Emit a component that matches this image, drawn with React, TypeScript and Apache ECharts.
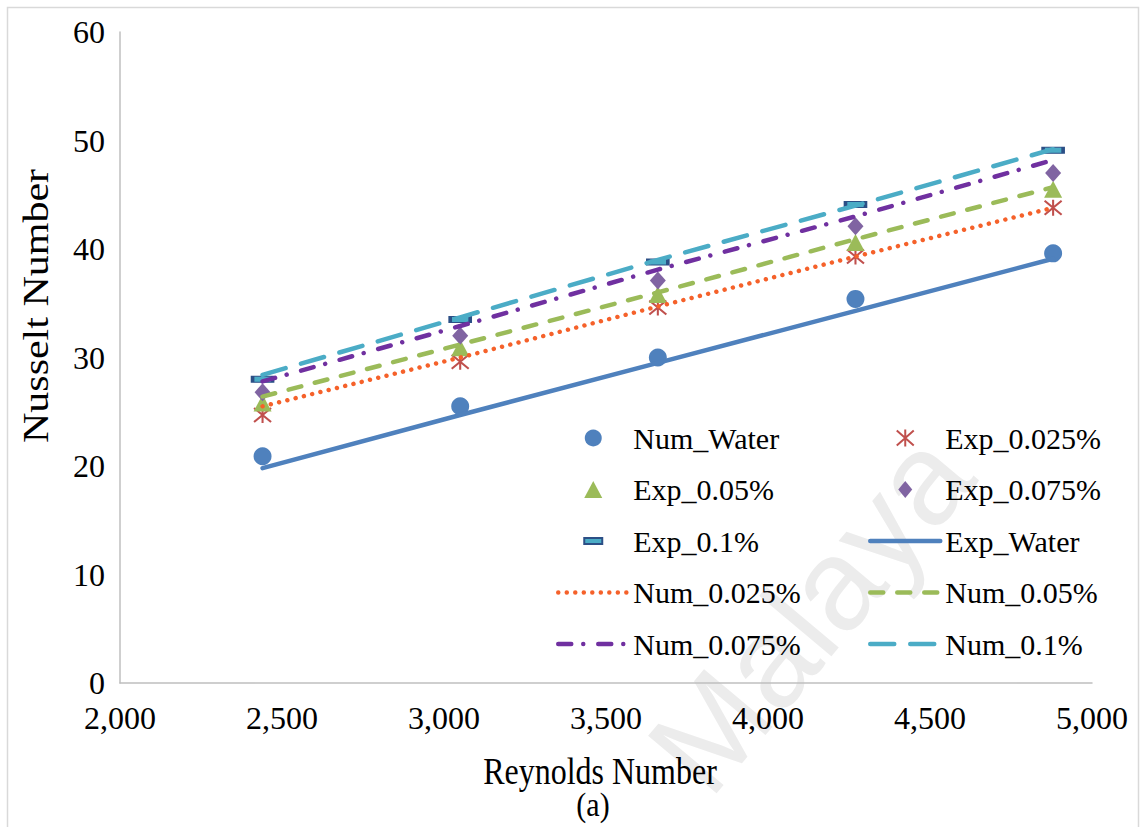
import React, { useEffect, useRef } from "react";
import * as echarts from "echarts";

// Reynolds numbers of the five test runs
const reynolds = [2440, 3050, 3660, 4270, 4880];

// Nusselt numbers per case
const numWater = [20.9, 25.5, 30.0, 35.4, 39.6];
const exp0025 = [24.7, 29.6, 34.6, 39.3, 43.8];
const exp005 = [25.8, 30.9, 35.8, 40.6, 45.5];
const exp0075 = [26.8, 32.0, 37.1, 42.1, 47.0];
const exp01 = [28.0, 33.5, 38.8, 44.1, 49.1];
const expWater = [19.8, 24.7, 29.5, 34.3, 39.1];
const num0025 = [25.5, 30.0, 34.7, 39.3, 43.8];
const num005 = [26.4, 31.2, 36.0, 40.9, 45.7];
const num0075 = [27.8, 32.9, 38.1, 43.0, 48.2];
const num01 = [28.4, 33.7, 39.0, 44.0, 49.2];

const legendLeftColumn = ["Num_Water", "Exp_0.05%", "Exp_0.1%", "Num_0.025%", "Num_0.075%"];
const legendRightColumn = ["Exp_0.025%", "Exp_0.075%", "Exp_Water", "Num_0.05%", "Num_0.1%"];
const lineNames = ["Exp_Water", "Num_0.025%", "Num_0.05%", "Num_0.075%", "Num_0.1%"];

// legend icons padded to the full 70x17 icon box so they keep their own proportions
const paddedIcons: Record<string, string> = {
  "Exp_0.05%": "path://M0,0M70,17M26,17L35,0L44,17Z",
  "Exp_0.075%": "path://M0,0M70,17M28,8.5L35,0L42,8.5L35,17Z",
  "Exp_0.1%": "path://M0,0M70,17M26,5.5h18v6h-18z",
};

const SERIF = "'Liberation Serif', 'Times New Roman', serif";

const pairs = (ys: number[]) => reynolds.map((x, i) => [x, ys[i]]);

const scatter = (name: string, ys: number[], extra: any) => ({
  name,
  type: "scatter",
  data: pairs(ys),
  ...extra,
});

const line = (name: string, ys: number[], color: string, type: any) => ({
  name,
  type: "line",
  data: pairs(ys),
  symbol: "none",
  showSymbol: false,
  lineStyle: { color, width: 4.5, type, cap: "round" },
  itemStyle: { color, opacity: 0 },
});

// legend entry: line series show only their stroke
const legendItem = (name: string) => {
  if (lineNames.includes(name)) return { name, itemStyle: { opacity: 0 } };
  if (paddedIcons[name]) return { name, icon: paddedIcons[name] };
  return { name };
};

export default function App() {
  const ref = useRef<HTMLDivElement>(null);

  useEffect(() => {
    if (!ref.current) return;
    const chart = echarts.init(ref.current, null, { renderer: "svg" });

    const legendBase = {
      orient: "vertical",
      itemWidth: 70,
      itemHeight: 17,
      itemGap: 15.5,
      padding: 0,
      selectedMode: false,
      symbolKeepAspect: true,
      lineStyle: { width: "inherit" },
      textStyle: { fontFamily: SERIF, fontSize: 30, color: "#000", lineHeight: 36 },
    };

    chart.setOption({
      animation: false,
      backgroundColor: "#fff",
      grid: { left: 120, right: 54, top: 32, bottom: 144, containLabel: false },
      xAxis: {
        type: "value",
        min: 2000,
        max: 5000,
        interval: 500,
        axisLine: { show: true, lineStyle: { color: "#bfbfbf", width: 1.5 } },
        axisTick: { show: false },
        splitLine: { show: false },
        axisLabel: {
          margin: 19,
          fontFamily: SERIF,
          fontSize: 32,
          color: "#000",
          formatter: (v: number) => v.toLocaleString("en-US"),
        },
      },
      yAxis: {
        type: "value",
        min: 0,
        max: 60,
        interval: 10,
        axisLine: { show: true, lineStyle: { color: "#bfbfbf", width: 1.5 } },
        axisTick: { show: false },
        splitLine: { show: false },
        axisLabel: { margin: 15, fontFamily: SERIF, fontSize: 32, color: "#000" },
      },
      legend: [
        { ...legendBase, left: 556, top: 420, data: legendLeftColumn.map(legendItem) },
        { ...legendBase, left: 868, top: 420, data: legendRightColumn.map(legendItem) },
      ],
      graphic: [
        {
          type: "rect",
          shape: { x: 7.5, y: 7.5, width: 1131, height: 840 },
          style: { fill: "none", stroke: "#d9d9d9", lineWidth: 1.5 },
          z: -10,
        },
        {
          type: "text",
          x: 810,
          y: 612,
          rotation: (50 * Math.PI) / 180,
          z: -5,
          style: {
            text: "Malaya",
            fontFamily: "'Liberation Sans', Arial, sans-serif",
            fontSize: 130,
            fill: "#ececec",
            align: "center",
            verticalAlign: "middle",
          },
        },
        {
          type: "text",
          x: 36,
          y: 306,
          rotation: Math.PI / 2,
          scaleX: 1.2,
          style: {
            text: "Nusselt Number",
            fontFamily: SERIF,
            fontSize: 35,
            fill: "#000",
            align: "center",
            verticalAlign: "middle",
          },
        },
        {
          type: "text",
          x: 600,
          y: 772,
          scaleY: 1.18,
          style: {
            text: "Reynolds Number",
            fontFamily: SERIF,
            fontSize: 32,
            fill: "#000",
            align: "center",
            verticalAlign: "middle",
          },
        },
        {
          type: "text",
          x: 593,
          y: 805,
          scaleY: 1.1,
          style: {
            text: "(a)",
            fontFamily: SERIF,
            fontSize: 30,
            fill: "#000",
            align: "center",
            verticalAlign: "middle",
          },
        },
      ],
      series: [
        scatter("Num_Water", numWater, {
          symbol: "circle",
          symbolSize: 18,
          itemStyle: { color: "#4f81bd", opacity: 1 },
        }),
        scatter("Exp_0.025%", exp0025, {
          symbol: "path://M-8,-7L8,7M-8,7L8,-7M0,-8L0,8",
          symbolSize: [17, 16],
          itemStyle: { color: "rgba(0,0,0,0)", borderColor: "#c0504d", borderWidth: 2, opacity: 1 },
        }),
        scatter("Exp_0.05%", exp005, {
          symbol: "triangle",
          symbolSize: [18, 17],
          itemStyle: { color: "#9bbb59", opacity: 1 },
        }),
        scatter("Exp_0.075%", exp0075, {
          symbol: "diamond",
          symbolSize: [16, 18],
          itemStyle: { color: "#8064a2", opacity: 1 },
        }),
        scatter("Exp_0.1%", exp01, {
          symbol: "rect",
          symbolSize: [20, 6],
          itemStyle: { color: "#4bacc6", borderColor: "#2c4f86", borderWidth: 2, opacity: 1 },
        }),
        line("Exp_Water", expWater, "#4f81bd", "solid"),
        line("Num_0.025%", num0025, "#f5612a", [0.01, 8.5]),
        line("Num_0.05%", num005, "#9bbb59", [13, 14]),
        line("Num_0.075%", num0075, "#7030a0", [13, 12, 0.01, 15]),
        line("Num_0.1%", num01, "#4bacc6", [24, 16]),
      ],
    });

    return () => chart.dispose();
  }, []);

  return (
    <div
      ref={ref}
      style={{ position: "absolute", left: 0, top: 0, width: 1146, height: 827, background: "#fff" }}
    />
  );
}
